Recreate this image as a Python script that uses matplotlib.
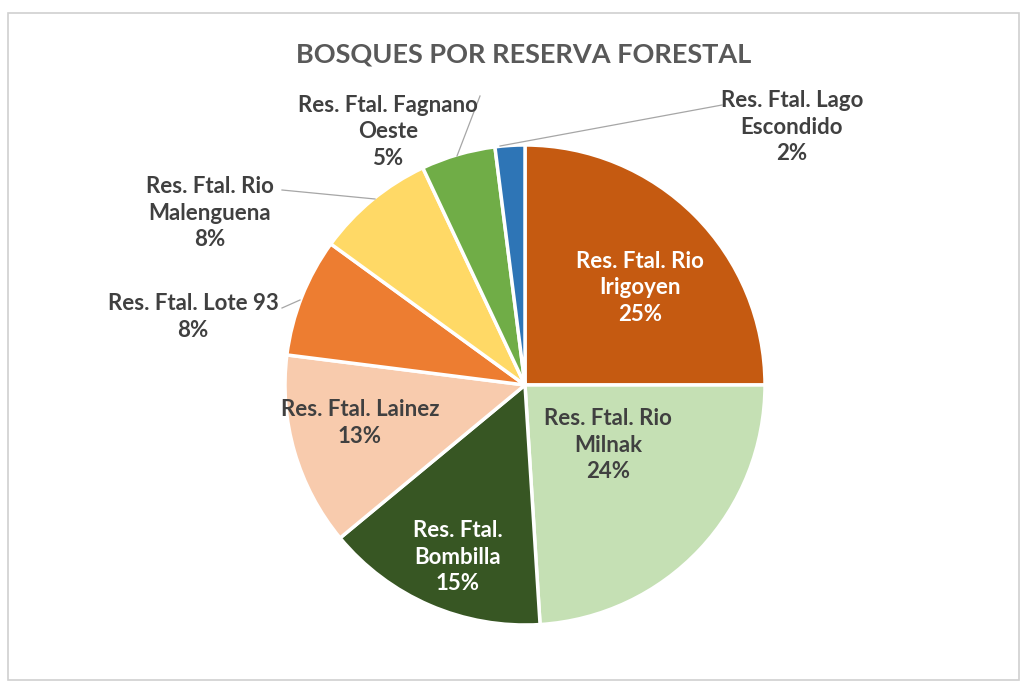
import numpy as np
import matplotlib.pyplot as plt
from matplotlib.patches import Rectangle

plt.rcParams['font.family'] = ['Lato', 'DejaVu Sans']

# data
reservas = ['Res. Ftal. Rio\nIrigoyen', 'Res. Ftal. Rio\nMilnak', 'Res. Ftal.\nBombilla',
            'Res. Ftal. Lainez', 'Res. Ftal. Lote 93', 'Res. Ftal. Rio\nMalenguena',
            'Res. Ftal. Fagnano\nOeste', 'Res. Ftal. Lago\nEscondido']
porcentajes = [25, 24, 15, 13, 8, 8, 5, 2]
colores = ['#C55A11', '#C5E0B4', '#375623', '#F8CBAD', '#ED7D31', '#FFD966', '#70AD47', '#2E75B6']

# label styling / placement (pixel coords, y from top)
label_pos = [(640, 288), (608, 445), (458, 557), (360, 423),
             (193, 317), (210, 213), (388, 132), (792, 127)]
label_col = ['white', '#404040', 'white', '#404040', '#404040', '#404040', '#404040', '#404040']
leaders = {4: [(282, 308), (300, 300)],
           5: [(282, 190), (375, 199)],
           6: [(480, 96), (457, 156)],
           7: [(722, 105), (500, 146)]}

W, H = 1024, 686
fig = plt.figure(figsize=(W / 100, H / 100), dpi=100)
ax = fig.add_axes([0, 0, 1, 1])

# chart frame
ax.add_patch(Rectangle((8, 6), 1011, H - 19, fill=False, edgecolor='#D0D0D0', lw=1.2))

cx, cy, r = 525, H - 385, 240
ax.pie(porcentajes, colors=colores, startangle=90, counterclock=False,
       center=(cx, cy), radius=r, frame=True,
       wedgeprops=dict(edgecolor='white', linewidth=2.5))
ax.set_xlim(0, W)
ax.set_ylim(0, H)
ax.set_aspect('equal')
ax.axis('off')

for i, (lab, p) in enumerate(zip(reservas, porcentajes)):
    x, y = label_pos[i]
    ax.text(x, H - y, f'{lab}\n{p}%', ha='center', va='center', fontsize=16,
            fontweight='bold', color=label_col[i], linespacing=1.3)
    if i in leaders:
        (x0, y0), (x1, y1) = leaders[i]
        ax.plot([x0, x1], [H - y0, H - y1], color='#A6A6A6', lw=0.9)

ax.text(524, H - 55, 'BOSQUES POR RESERVA FORESTAL', ha='center', va='center',
        fontsize=19.5, fontweight='bold', color='#595959')

fig.savefig('out.png', dpi=100)
